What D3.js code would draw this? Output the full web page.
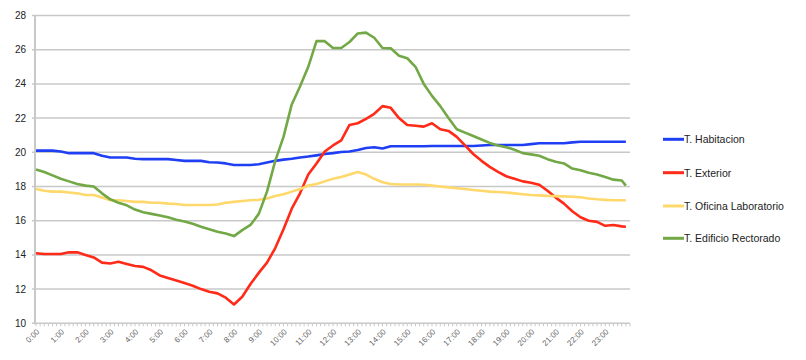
<!DOCTYPE html>
<html>
<head>
<meta charset="utf-8">
<script src="https://cdn.jsdelivr.net/npm/d3@7/dist/d3.min.js"></script>
<style>
  html, body { margin: 0; padding: 0; background: #fff; }
  svg { display: block; font-family: "Liberation Sans", Arial, sans-serif; }
</style>
</head>
<body>
<svg id="chart" width="806" height="360"></svg>
<script>
// Time of each sample, minutes after midnight (every 20 min, last one 23:50)
const times = d3.range(0, 72).map(i => i * 20).concat([1430]);

const hourLabels = ["0:00","1:00","2:00","3:00","4:00","5:00","6:00","7:00","8:00","9:00","10:00","11:00",
  "12:00","13:00","14:00","15:00","16:00","17:00","18:00","19:00","20:00","21:00","22:00","23:00"];

const yTicks = [10, 12, 14, 16, 18, 20, 22, 24, 26, 28];

const seriesNames = ["T. Habitacion", "T. Exterior", "T. Oficina Laboratorio", "T. Edificio Rectorado"];
const seriesColors = ["#1f3ff5", "#ff2a17", "#ffd86b", "#72a846"];

const habitacion = [20.1,20.1,20.1,20.05,19.95,19.95,19.95,19.95,19.8,19.7,19.7,19.7,
  19.62,19.6,19.6,19.6,19.6,19.55,19.5,19.5,19.5,19.42,19.4,19.35,
  19.26,19.26,19.26,19.3,19.4,19.5,19.57,19.62,19.7,19.75,19.82,19.9,
  19.95,20.02,20.05,20.13,20.25,20.3,20.22,20.35,20.35,20.35,20.35,20.35,
  20.37,20.37,20.37,20.37,20.37,20.37,20.4,20.43,20.43,20.43,20.43,20.43,
  20.48,20.53,20.53,20.53,20.53,20.58,20.62,20.62,20.62,20.62,20.62,20.62,20.62];

const exterior = [14.1,14.05,14.05,14.05,14.15,14.15,14.0,13.85,13.55,13.5,13.6,13.47,
  13.35,13.3,13.1,12.8,12.65,12.5,12.35,12.2,12.0,11.85,11.75,11.5,
  11.1,11.55,12.3,12.95,13.55,14.4,15.5,16.7,17.6,18.7,19.35,20.05,
  20.4,20.7,21.6,21.7,21.95,22.25,22.7,22.6,22.0,21.6,21.55,21.5,
  21.7,21.35,21.25,20.9,20.4,19.9,19.5,19.15,18.85,18.6,18.45,18.3,
  18.22,18.1,17.75,17.35,17.0,16.55,16.2,16.0,15.93,15.7,15.75,15.67,15.65];

const oficina = [17.85,17.75,17.7,17.7,17.65,17.6,17.5,17.5,17.35,17.2,17.2,17.15,
  17.1,17.1,17.05,17.05,17.0,16.98,16.92,16.92,16.92,16.92,16.95,17.05,
  17.1,17.15,17.2,17.22,17.3,17.45,17.55,17.7,17.85,18.05,18.15,18.3,
  18.45,18.55,18.7,18.85,18.7,18.45,18.25,18.15,18.12,18.12,18.12,18.1,
  18.05,18.0,17.95,17.9,17.85,17.8,17.75,17.7,17.68,17.65,17.6,17.55,
  17.5,17.48,17.45,17.44,17.42,17.4,17.37,17.3,17.25,17.22,17.2,17.2,17.2];

const rectorado = [19.0,18.85,18.65,18.45,18.3,18.15,18.05,18.0,17.6,17.25,17.05,16.9,
  16.65,16.5,16.4,16.3,16.2,16.05,15.95,15.82,15.65,15.5,15.35,15.25,
  15.1,15.45,15.75,16.4,17.7,19.5,20.9,22.8,23.85,25.0,26.5,26.5,
  26.1,26.1,26.45,26.95,27.0,26.7,26.1,26.08,25.65,25.5,25.0,24.0,
  23.3,22.7,22.0,21.35,21.15,20.95,20.75,20.55,20.4,20.3,20.15,19.95,
  19.88,19.8,19.6,19.45,19.35,19.05,18.95,18.8,18.7,18.55,18.4,18.35,18.05];

const allSeries = [habitacion, exterior, oficina, rectorado];

const svg = d3.select("#chart");
const pLeft = 36, pRight = 630, pTop = 15.5, pBottom = 323.3;

const x = d3.scaleLinear().domain([0, 1440]).range([pLeft, pRight]);
const y = d3.scaleLinear().domain([10, 28]).range([pBottom, pTop]);

// Gridlines
svg.append("g").selectAll("line").data(yTicks.filter(v => v > 10)).join("line")
  .attr("x1", pLeft - 4).attr("x2", pRight)
  .attr("y1", d => y(d)).attr("y2", d => y(d))
  .attr("stroke", "#c8c8c8").attr("stroke-width", 1.5);

// Y axis line
svg.append("line").attr("x1", pLeft - 1).attr("x2", pLeft - 1)
  .attr("y1", pTop).attr("y2", pBottom + 1)
  .attr("stroke", "#c8c8c8").attr("stroke-width", 2);

// X axis line
svg.append("line").attr("x1", pLeft - 4).attr("x2", pRight)
  .attr("y1", pBottom).attr("y2", pBottom)
  .attr("stroke", "#c8c8c8").attr("stroke-width", 1.5);

// Minor ticks every 10 min
svg.append("g").selectAll("line").data(d3.range(0, 1441, 10)).join("line")
  .attr("x1", d => x(d)).attr("x2", d => x(d))
  .attr("y1", pBottom).attr("y2", pBottom + 3)
  .attr("stroke", "#c8c8c8").attr("stroke-width", 1);

// Y tick labels
svg.append("g").selectAll("text").data(yTicks).join("text")
  .attr("x", 26).attr("y", d => y(d) + 3.5)
  .attr("text-anchor", "end")
  .attr("font-size", 10).attr("fill", "#222")
  .text(d => d);

// X tick labels
svg.append("g").selectAll("text").data(hourLabels).join("text")
  .attr("text-anchor", "end")
  .attr("font-size", 8).attr("fill", "#666")
  .attr("transform", (d, i) => `translate(${x(i * 60) + 4},${pBottom + 9}) rotate(-45)`)
  .text(d => d);

// Lines
const line = d3.line().x((d, i) => x(times[i])).y(d => y(d));
allSeries.forEach((s, k) => {
  svg.append("path").datum(s)
    .attr("fill", "none")
    .attr("stroke", seriesColors[k])
    .attr("stroke-width", 2.6)
    .attr("stroke-linejoin", "round")
    .attr("d", line);
});

// Legend
const legY = [139.3, 172.7, 206, 238.3];
const leg = svg.append("g");
seriesNames.forEach((n, k) => {
  leg.append("line").attr("x1", 663).attr("x2", 684)
    .attr("y1", legY[k]).attr("y2", legY[k])
    .attr("stroke", seriesColors[k]).attr("stroke-width", 3);
  leg.append("text").attr("x", 684).attr("y", legY[k] + 3.8)
    .attr("font-size", 10.5).attr("fill", "#222")
    .text(n);
});
</script>
</body>
</html>
